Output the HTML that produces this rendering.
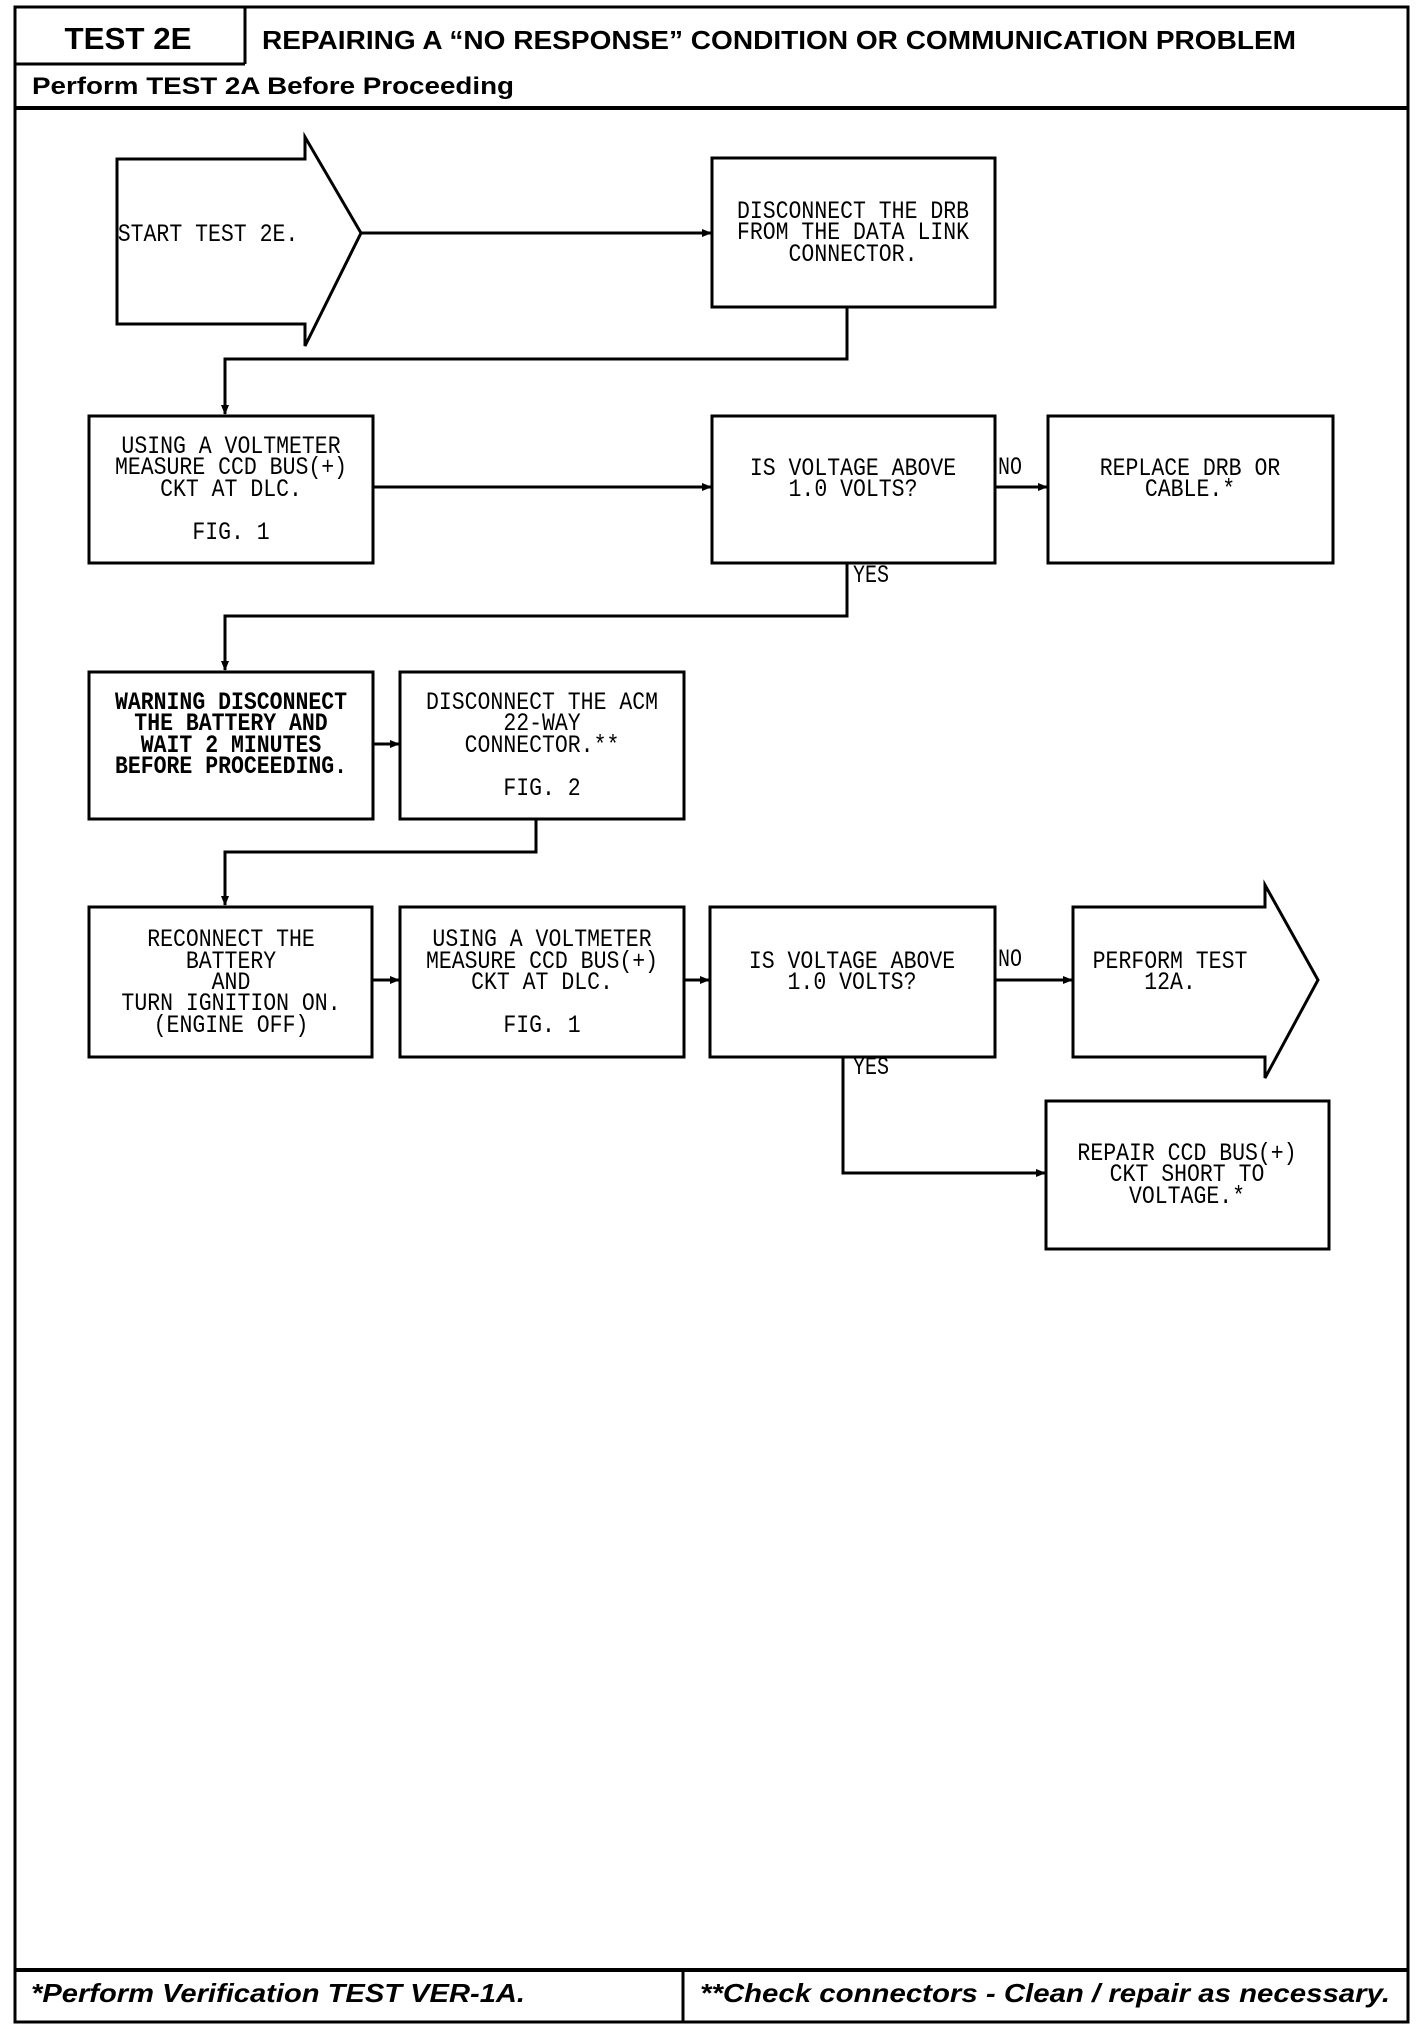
<!DOCTYPE html>
<html><head><meta charset="utf-8"><style>
html,body{margin:0;padding:0;background:#fff;}
svg{display:block}
.m{font-family:"Liberation Mono",monospace;font-size:25px;fill:#000;}
.b{font-weight:bold}
.h{font-family:"Liberation Sans",sans-serif;font-weight:bold;fill:#000;}
</style></head><body>
<svg width="1424" height="2032" viewBox="0 0 1424 2032" xmlns="http://www.w3.org/2000/svg">
<defs>
<marker id="ar" markerWidth="10" markerHeight="10" refX="9" refY="5" orient="auto" markerUnits="userSpaceOnUse">
<path d="M0,1 L10,5 L0,9 Z" fill="#000"/></marker>
</defs>
<g fill="none" stroke="#000" stroke-width="3">
<!-- frame -->
<rect x="15" y="7" width="1393" height="2015"/>
<line x1="15" y1="64" x2="245" y2="64"/>
<line x1="245" y1="7" x2="245" y2="64"/>
<line x1="15" y1="108" x2="1408" y2="108" stroke-width="4"/>
<line x1="15" y1="1970" x2="1408" y2="1970" stroke-width="4"/>
<line x1="683" y1="1970" x2="683" y2="2022"/>
<!-- start arrow -->
<path d="M117,159 H305 V137 L361,233 L305,346 V324 H117 Z"/>
<!-- boxes -->
<rect x="712" y="158" width="283" height="149"/>
<rect x="89" y="416" width="284" height="147"/>
<rect x="712" y="416" width="283" height="147"/>
<rect x="1048" y="416" width="285" height="147"/>
<rect x="89" y="672" width="284" height="147"/>
<rect x="400" y="672" width="284" height="147"/>
<rect x="89" y="907" width="283" height="150"/>
<rect x="400" y="907" width="284" height="150"/>
<rect x="710" y="907" width="285" height="150"/>
<path d="M1073,907 H1265 V885 L1318,980 L1265,1078 V1057 H1073 Z"/>
<rect x="1046" y="1101" width="283" height="148"/>
<!-- connectors -->
<line x1="361" y1="233" x2="711" y2="233" marker-end="url(#ar)"/>
<polyline points="847,307 847,359 225,359 225,414" marker-end="url(#ar)"/>
<line x1="373" y1="487" x2="711" y2="487" marker-end="url(#ar)"/>
<line x1="995" y1="487" x2="1047" y2="487" marker-end="url(#ar)"/>
<polyline points="847,563 847,616 225,616 225,670" marker-end="url(#ar)"/>
<line x1="373" y1="744" x2="399" y2="744" marker-end="url(#ar)"/>
<polyline points="536,819 536,852 225,852 225,905" marker-end="url(#ar)"/>
<line x1="372" y1="980" x2="399" y2="980" marker-end="url(#ar)"/>
<line x1="684" y1="980" x2="709" y2="980" marker-end="url(#ar)"/>
<line x1="995" y1="980" x2="1072" y2="980" marker-end="url(#ar)"/>
<polyline points="843,1057 843,1173 1045,1173" marker-end="url(#ar)"/>
</g>
<!-- header text -->
<text class="h" x="128" y="49" font-size="31" text-anchor="middle" textLength="127" lengthAdjust="spacingAndGlyphs">TEST 2E</text>
<text class="h" x="262" y="49" font-size="26" textLength="1034" lengthAdjust="spacingAndGlyphs">REPAIRING A “NO RESPONSE” CONDITION OR COMMUNICATION PROBLEM</text>
<text class="h" x="32" y="94" font-size="24" textLength="482" lengthAdjust="spacingAndGlyphs">Perform TEST 2A Before Proceeding</text>
<text class="h" x="31" y="2002" font-size="26" font-style="italic" textLength="494" lengthAdjust="spacingAndGlyphs">*Perform Verification TEST VER-1A.</text>
<text class="h" x="700" y="2002" font-size="26" font-style="italic" textLength="690" lengthAdjust="spacingAndGlyphs">**Check connectors - Clean / repair as necessary.</text>
<!-- box text -->
<g class="m" text-anchor="middle">
<text transform="translate(208,241) scale(.86,1)">START TEST 2E.</text>
<text transform="translate(853,218) scale(.86,1)">DISCONNECT THE DRB</text>
<text transform="translate(853,239) scale(.86,1)">FROM THE DATA LINK</text>
<text transform="translate(853,261) scale(.86,1)">CONNECTOR.</text>

<text transform="translate(231,453) scale(.86,1)">USING A VOLTMETER</text>
<text transform="translate(231,474) scale(.86,1)">MEASURE CCD BUS(+)</text>
<text transform="translate(231,496) scale(.86,1)">CKT AT DLC.</text>
<text transform="translate(231,539) scale(.86,1)">FIG. 1</text>

<text transform="translate(853,475) scale(.86,1)">IS VOLTAGE ABOVE</text>
<text transform="translate(853,496) scale(.86,1)">1.0 VOLTS?</text>
<text transform="translate(1190,475) scale(.86,1)">REPLACE DRB OR</text>
<text transform="translate(1190,496) scale(.86,1)">CABLE.*</text>

<g font-weight="bold">
<text transform="translate(231,709) scale(.86,1)">WARNING DISCONNECT</text>
<text transform="translate(231,730) scale(.86,1)">THE BATTERY AND</text>
<text transform="translate(231,752) scale(.86,1)">WAIT 2 MINUTES</text>
<text transform="translate(231,773) scale(.86,1)">BEFORE PROCEEDING.</text>
</g>
<text transform="translate(542,709) scale(.86,1)">DISCONNECT THE ACM</text>
<text transform="translate(542,730) scale(.86,1)">22-WAY</text>
<text transform="translate(542,752) scale(.86,1)">CONNECTOR.**</text>
<text transform="translate(542,795) scale(.86,1)">FIG. 2</text>

<text transform="translate(231,946) scale(.86,1)">RECONNECT THE</text>
<text transform="translate(231,968) scale(.86,1)">BATTERY</text>
<text transform="translate(231,989) scale(.86,1)">AND</text>
<text transform="translate(231,1010) scale(.86,1)">TURN IGNITION ON.</text>
<text transform="translate(231,1032) scale(.86,1)">(ENGINE OFF)</text>

<text transform="translate(542,946) scale(.86,1)">USING A VOLTMETER</text>
<text transform="translate(542,968) scale(.86,1)">MEASURE CCD BUS(+)</text>
<text transform="translate(542,989) scale(.86,1)">CKT AT DLC.</text>
<text transform="translate(542,1032) scale(.86,1)">FIG. 1</text>

<text transform="translate(852,968) scale(.86,1)">IS VOLTAGE ABOVE</text>
<text transform="translate(852,989) scale(.86,1)">1.0 VOLTS?</text>

<text transform="translate(1170,968) scale(.86,1)">PERFORM TEST</text>
<text transform="translate(1170,989) scale(.86,1)">12A.</text>

<text transform="translate(1187,1160) scale(.86,1)">REPAIR CCD BUS(+)</text>
<text transform="translate(1187,1181) scale(.86,1)">CKT SHORT TO</text>
<text transform="translate(1187,1203) scale(.86,1)">VOLTAGE.*</text>
</g>
<g class="m" font-size="22">
<text transform="translate(998,474) scale(.8,1)">NO</text>
<text transform="translate(853,582) scale(.8,1)">YES</text>
<text transform="translate(998,966) scale(.8,1)">NO</text>
<text transform="translate(853,1074) scale(.8,1)">YES</text>
</g>
</svg>
</body></html>
